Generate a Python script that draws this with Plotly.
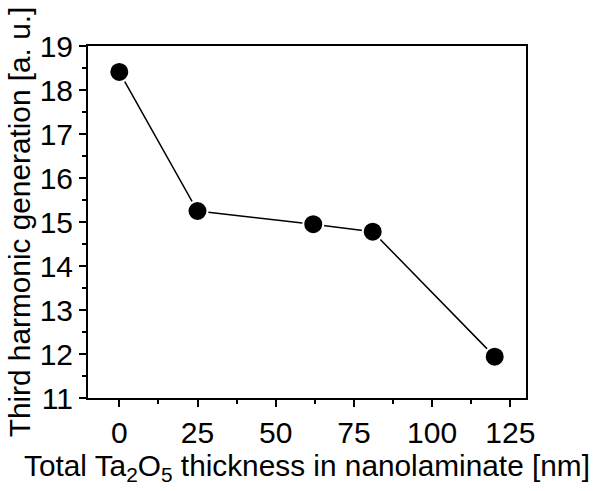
import plotly.graph_objects as go

thickness_nm = [0, 25, 62, 81, 120]
thg_au = [18.41, 15.25, 14.95, 14.78, 11.94]

x_ticks = [0, 25, 50, 75, 100, 125]
y_ticks = [11, 12, 13, 14, 15, 16, 17, 18, 19]

FONT = "Liberation Sans, Arial, sans-serif"

fig = go.Figure()
fig.add_trace(go.Scatter(
    x=thickness_nm, y=thg_au, mode="lines+markers",
    line=dict(color="black", width=1.5),
    marker=dict(color="black", size=20, line=dict(color="white", width=2)),
    showlegend=False,
))

axis_common = dict(
    showline=True, linecolor="black", linewidth=2, mirror=True,
    ticks="outside", ticklen=7, tickwidth=2, tickcolor="black",
    showgrid=False, zeroline=False,
    tickfont=dict(family=FONT, size=30, color="black"),
)

fig.update_xaxes(
    **axis_common,
    range=[-10, 130], tickvals=x_ticks, ticktext=[str(v) for v in x_ticks],
    minor=dict(ticks="outside", ticklen=4, tickwidth=2, dtick=12.5, tick0=0, tickcolor="black"),
    title=dict(text="Total Ta<sub>2</sub>O<sub>5</sub> thickness in nanolaminate [nm]",
               font=dict(family=FONT, size=29.8, color="black"), standoff=2),
)
fig.update_yaxes(
    **axis_common,
    range=[11, 19], tickvals=y_ticks, ticktext=[str(v) for v in y_ticks],
    minor=dict(ticks="outside", ticklen=4, tickwidth=2, dtick=0.5, tick0=11, tickcolor="black"),
    title=dict(text="Third harmonic generation [a. u.]",
               font=dict(family=FONT, size=29.8, color="black"), standoff=0),
)

fig.update_layout(
    width=598, height=491,
    margin=dict(l=88, r=72, t=46, b=93),
    plot_bgcolor="white", paper_bgcolor="white",
)

fig.write_html("out.html")
